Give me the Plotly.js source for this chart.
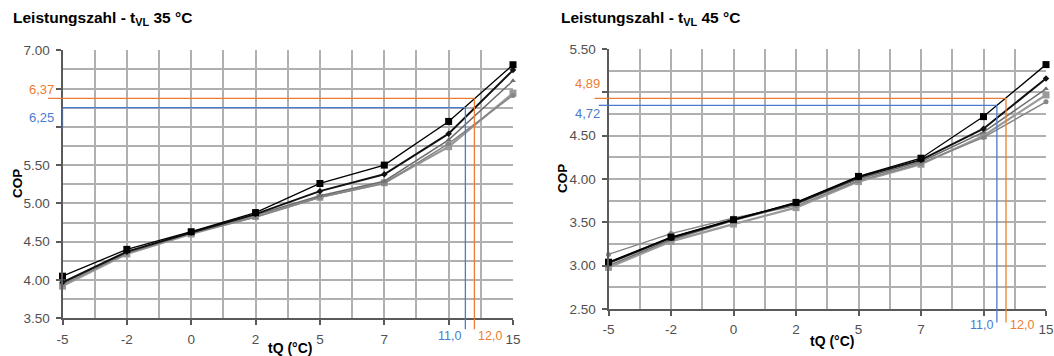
<!DOCTYPE html>
<html><head><meta charset="utf-8">
<script src="https://cdn.plot.ly/plotly-3.0.1.min.js"></script>
<style>html,body{margin:0;padding:0;background:#fff;}#chart{width:1054px;height:356px;}</style>
</head><body><div id="chart"></div>
<script>
// ---------- data ----------
const categories = [-5, -2, 0, 2, 5, 7, 10, 15];
const tickLabels = ['-5', '-2', '0', '2', '5', '7', '', '15'];

const yTicks35 = [3.5, 4, 4.5, 5, 5.5, 6, 6.5, 7];
const yLabels35 = ['3.50', '4.00', '4.50', '5.00', '5.50', '', '', '7.00'];
const yTicks45 = [2.5, 3, 3.5, 4, 4.5, 5, 5.5];
const yLabels45 = ['2.50', '3.00', '3.50', '4.00', '4.50', '', '5.50'];

const s1_35 = [4.05, 4.40, 4.63, 4.88, 5.26, 5.50, 6.07, 6.81];
const s2_35 = [3.97, 4.37, 4.62, 4.86, 5.16, 5.38, 5.91, 6.74];
const s3_35 = [3.96, 4.36, 4.62, 4.85, 5.10, 5.29, 5.83, 6.60];
const s4_35 = [3.92, 4.34, 4.60, 4.83, 5.08, 5.27, 5.74, 6.44];
const s5_35 = [3.94, 4.35, 4.61, 4.82, 5.08, 5.26, 5.78, 6.41];

const s1_45 = [3.04, 3.33, 3.53, 3.73, 4.03, 4.24, 4.72, 5.32];
const s2_45 = [3.03, 3.32, 3.53, 3.72, 4.02, 4.22, 4.58, 5.16];
const s3_45 = [3.00, 3.30, 3.52, 3.71, 4.00, 4.20, 4.54, 5.04];
const s4_45 = [2.98, 3.28, 3.48, 3.67, 3.97, 4.17, 4.50, 4.97];
const s5_45 = [3.13, 3.37, 3.55, 3.69, 3.98, 4.18, 4.48, 4.89];

// guide lines (orange, blue)
const guideY35 = [6.37, 6.25];
const guideX35 = [12.0, 11.3];
const guideYText35 = ['6,37', '6,25'];
const guideXText35 = ['12,0', '11,0'];
const guideLabelY35 = [6.49, 6.12];
const guideFoot35 = [null, 5.97];

const guideY45 = [4.93, 4.85];
const guideX45 = [11.8, 11.07];
const guideYText45 = ['4,89', '4,72'];
const guideXText45 = ['12,0', '11,0'];
const guideLabelY45 = [5.10, 4.75];
const guideFoot45 = [null, null];

// ---------- styles ----------
const FONT = 'Liberation Sans, Arial, sans-serif';
const guideColors = ['#ED7D31', '#4A7BD0'];
const styles = [
  {color: '#000000', symbol: 'square', size: 7, width: 1.3},
  {color: '#111111', symbol: 'diamond', size: 5, width: 2.0},
  {color: '#6e6e6e', symbol: 'triangle-up', size: 5, width: 1.5},
  {color: '#9a9a9a', symbol: 'square', size: 7, width: 2.2},
  {color: '#858585', symbol: 'circle', size: 5, width: 1.5}
];

function idx(v) {
  for (let i = 0; i < categories.length - 1; i++) {
    if (v <= categories[i + 1]) return i + (v - categories[i]) / (categories[i + 1] - categories[i]);
  }
  return categories.length - 1;
}
const xi = categories.map(idx);

const traces = [];
function addSeries(series, xa, ya) {
  const order = [3, 4, 2, 1, 0];
  order.forEach(k => {
    const st = styles[k];
    traces.push({
      type: 'scatter', mode: 'lines+markers', x: xi, y: series[k], xaxis: xa, yaxis: ya,
      line: {color: st.color, width: st.width},
      marker: {color: st.color, symbol: st.symbol, size: st.size},
      cliponaxis: false, hoverinfo: 'skip', showlegend: false
    });
  });
}
addSeries([s1_35, s2_35, s3_35, s4_35, s5_35], 'x', 'y');
addSeries([s1_45, s2_45, s3_45, s4_45, s5_45], 'x2', 'y2');

const shapes = [];
const annotations = [];
function addGuides(gY, gX, gYText, gXText, gLabelY, gFoot, xa, ya, yMin, hExt, vExt, xTextShift) {
  for (let i = 0; i < gY.length; i++) {
    const c = guideColors[i];
    const ln = {color: c, width: 1.3};
    const xg = idx(gX[i]);
    shapes.push({type: 'line', xref: xa, yref: ya, x0: 0, x1: xg, y0: gY[i], y1: gY[i], line: ln});
    if (hExt[i] > 0) shapes.push({type: 'line', xref: xa + ' domain', yref: ya, x0: -hExt[i], x1: 0, y0: gY[i], y1: gY[i], line: ln});
    shapes.push({type: 'line', xref: xa, yref: ya, x0: xg, x1: xg, y0: yMin, y1: gY[i], line: ln});
    shapes.push({type: 'line', xref: xa, yref: ya + ' domain', x0: xg, x1: xg, y0: -vExt, y1: 0, line: ln});
    if (gFoot[i] !== null) shapes.push({type: 'line', xref: xa, yref: ya, x0: 0, x1: 0, y0: gY[i], y1: gFoot[i], line: ln});
    annotations.push({xref: xa + ' domain', yref: ya, x: 0, y: gLabelY[i], xanchor: 'right', yanchor: 'middle',
      xshift: -7, text: gYText[i], showarrow: false, font: {family: FONT, size: 13, color: c}});
    annotations.push({xref: xa, yref: ya + ' domain', x: xg, y: 0, xanchor: i === 0 ? 'left' : 'right', yanchor: 'top',
      xshift: i === 0 ? 2 : -2, yshift: xTextShift, text: gXText[i], showarrow: false, font: {family: FONT, size: 12.5, color: c}});
  }
}
addGuides(guideY35, guideX35, guideYText35, guideXText35, guideLabelY35, guideFoot35, 'x', 'y', 3.5, [0.032, 0], 0.041, -9);
addGuides(guideY45, guideX45, guideYText45, guideXText45, guideLabelY45, guideFoot45, 'x2', 'y2', 2.5, [0.032, 0.022], 0.052, -7);

const W = 1054, H = 356;
function px(x) { return x / W; }
function py(y) { return 1 - y / H; }
annotations.push({xref: 'paper', yref: 'paper', x: px(11), y: py(18), xanchor: 'left', yanchor: 'middle', showarrow: false,
  text: '<b>Leistungszahl - t<sub>VL</sub> 35 °C</b>', font: {family: FONT, size: 15.5, color: '#000'}});
annotations.push({xref: 'paper', yref: 'paper', x: px(559), y: py(18), xanchor: 'left', yanchor: 'middle', showarrow: false,
  text: '<b>Leistungszahl - t<sub>VL</sub> 45 °C</b>', font: {family: FONT, size: 15.5, color: '#000'}});
annotations.push({xref: 'paper', yref: 'paper', x: px(17), y: py(184), xanchor: 'center', yanchor: 'middle', textangle: -90, showarrow: false,
  text: '<b>COP</b>', font: {family: FONT, size: 13.5, color: '#000'}});
annotations.push({xref: 'paper', yref: 'paper', x: px(563), y: py(179), xanchor: 'center', yanchor: 'middle', textangle: -90, showarrow: false,
  text: '<b>COP</b>', font: {family: FONT, size: 13.5, color: '#000'}});
annotations.push({xref: 'paper', yref: 'paper', x: px(290), y: py(348), xanchor: 'center', yanchor: 'middle', showarrow: false,
  text: '<b>tQ (°C)</b>', font: {family: FONT, size: 14, color: '#000'}});
annotations.push({xref: 'paper', yref: 'paper', x: px(832), y: py(341), xanchor: 'center', yanchor: 'middle', showarrow: false,
  text: '<b>tQ (°C)</b>', font: {family: FONT, size: 14, color: '#000'}});

const GRID = '#b0b0b0';
const AXC = '#5a5a5a';
const TXC = '#505050';
function xAxis(domain, anchor) {
  return {
    domain: domain, anchor: anchor, range: [0, categories.length - 1], tickmode: 'array',
    tickvals: xi, ticktext: tickLabels, showgrid: true, gridcolor: GRID, gridwidth: 2,
    ticks: 'outside', ticklen: 5, tickcolor: AXC, tickwidth: 2, showline: true, linecolor: AXC, linewidth: 2,
    zeroline: false, ticklabelstandoff: 2,
    minor: {tickmode: 'linear', tick0: 0.5, dtick: 1, showgrid: true, gridcolor: GRID, gridwidth: 2, ticks: ''},
    tickfont: {family: FONT, size: 13.5, color: TXC}, fixedrange: true
  };
}
function yAxis(domain, anchor, range, tv, tt) {
  return {
    domain: domain, anchor: anchor, range: range, tickmode: 'array', tickvals: tv, ticktext: tt,
    showgrid: true, gridcolor: GRID, gridwidth: 2, ticks: 'outside', ticklen: 5, tickcolor: AXC, tickwidth: 2,
    showline: true, linecolor: AXC, linewidth: 2, zeroline: false, ticklabelstandoff: 3,
    minor: {tickmode: 'linear', tick0: range[0] + 0.25, dtick: 0.5, showgrid: true, gridcolor: GRID, gridwidth: 2, ticks: ''},
    tickfont: {family: FONT, size: 13.5, color: TXC}, fixedrange: true
  };
}

const layout = {
  width: W, height: H, margin: {l: 0, r: 0, t: 0, b: 0}, paper_bgcolor: '#fff', plot_bgcolor: '#fff',
  showlegend: false, hovermode: false,
  xaxis: xAxis([px(62.5), px(513)], 'y'),
  yaxis: yAxis([1 - 318.3 / H, 1 - 50.2 / H], 'x', [3.5, 7], yTicks35, yLabels35),
  xaxis2: xAxis([px(608.5), px(1046)], 'y2'),
  yaxis2: yAxis([1 - 309 / H, 1 - 49 / H], 'x2', [2.5, 5.5], yTicks45, yLabels45),
  shapes: shapes, annotations: annotations
};
Plotly.newPlot('chart', traces, layout, {displayModeBar: false});
</script></body></html>
